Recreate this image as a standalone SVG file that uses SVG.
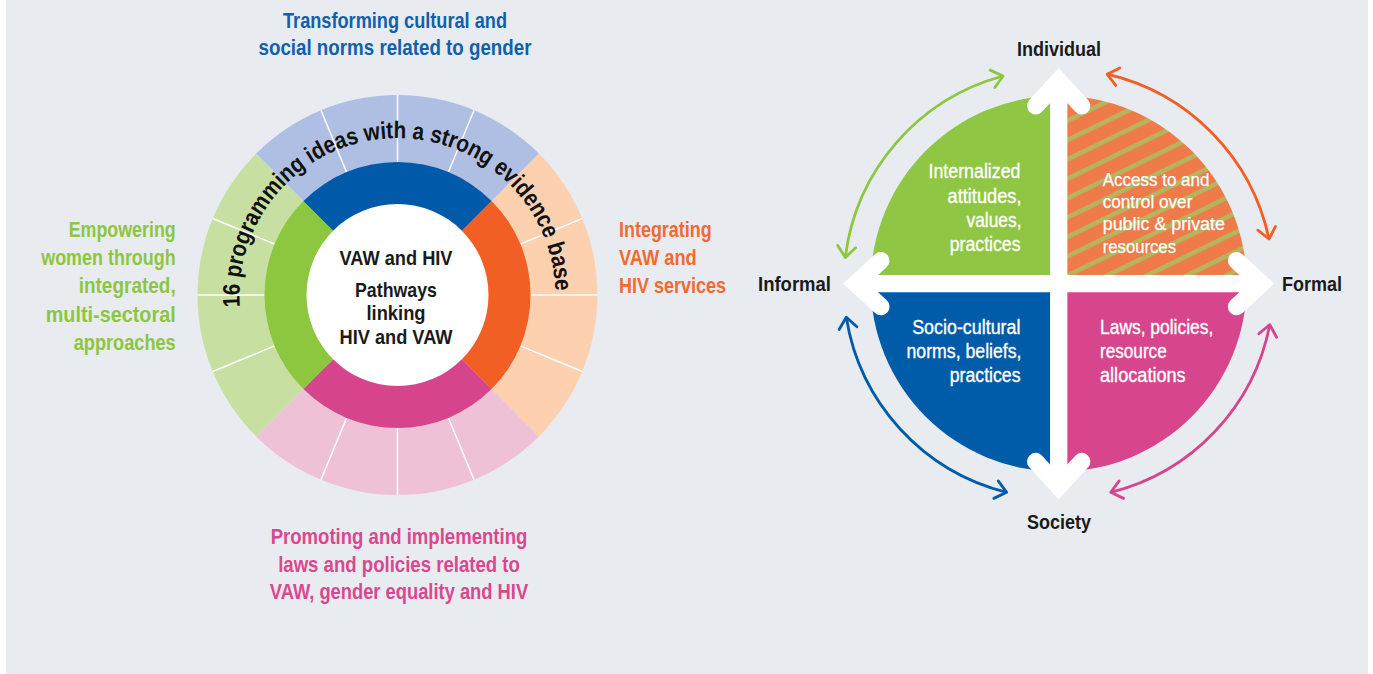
<svg xmlns="http://www.w3.org/2000/svg" width="1373" height="674" viewBox="0 0 1373 674">
<style>
.lbl{font-family:"Liberation Sans",Arial,sans-serif;font-weight:bold;font-size:21.5px}
.blk{font-family:"Liberation Sans",Arial,sans-serif;font-weight:bold;font-size:21px;fill:#1a1a1a}
.q{font-family:"Liberation Sans",Arial,sans-serif;font-size:20px;fill:#ffffff;stroke:#ffffff;stroke-width:0.35}
.qs{font-family:"Liberation Sans",Arial,sans-serif;font-size:18px;fill:#ffffff;stroke:#ffffff;stroke-width:0.25}
.div{stroke:#ffffff;stroke-width:1.5}
.arc{fill:none;stroke-width:2.8}
.axis{fill:none;stroke:#ffffff;stroke-width:17.3;stroke-linejoin:miter;stroke-miterlimit:10;stroke-linecap:round}
</style>
<defs>
<pattern id="hatch" patternUnits="userSpaceOnUse" width="20" height="17.4" patternTransform="rotate(-26)">
<rect width="20" height="17.4" fill="#ef7b4b"/>
<rect y="0" width="20" height="4.5" fill="#b5b55e"/>
</pattern>
<marker id="mg" markerUnits="userSpaceOnUse" markerWidth="30" markerHeight="30" viewBox="-20 -15 30 30" refX="0" refY="0" orient="auto-start-reverse" overflow="visible"><path d="M-11,-9 L0,0 L-11,9" fill="none" stroke="#8dc63f" stroke-width="2.8" stroke-linecap="round" stroke-linejoin="round"/></marker>
<marker id="mo" markerUnits="userSpaceOnUse" markerWidth="30" markerHeight="30" viewBox="-20 -15 30 30" refX="0" refY="0" orient="auto-start-reverse" overflow="visible"><path d="M-11,-9 L0,0 L-11,9" fill="none" stroke="#f15f24" stroke-width="2.8" stroke-linecap="round" stroke-linejoin="round"/></marker>
<marker id="mp" markerUnits="userSpaceOnUse" markerWidth="30" markerHeight="30" viewBox="-20 -15 30 30" refX="0" refY="0" orient="auto-start-reverse" overflow="visible"><path d="M-11,-9 L0,0 L-11,9" fill="none" stroke="#d6448c" stroke-width="2.8" stroke-linecap="round" stroke-linejoin="round"/></marker>
<marker id="mb" markerUnits="userSpaceOnUse" markerWidth="30" markerHeight="30" viewBox="-20 -15 30 30" refX="0" refY="0" orient="auto-start-reverse" overflow="visible"><path d="M-11,-9 L0,0 L-11,9" fill="none" stroke="#005aa9" stroke-width="2.8" stroke-linecap="round" stroke-linejoin="round"/></marker>
<path id="curve" d="M239.88,307.02 A158,158 0 1,1 555.43,291.31"/>
</defs>

<rect x="6" y="0" width="1362" height="674" fill="#e8ecf1"/>

<!-- LEFT WHEEL -->
<g id="wheel-outer">
<path d="M397.5,295 L538.92,153.58 A200,200 0 0 1 538.92,436.42 Z" fill="#fdd1b0"/>
<path d="M397.5,295 L538.92,436.42 A200,200 0 0 1 256.08,436.42 Z" fill="#efc1d7"/>
<path d="M397.5,295 L256.08,436.42 A200,200 0 0 1 256.08,153.58 Z" fill="#c7e0a2"/>
<path d="M397.5,295 L256.08,153.58 A200,200 0 0 1 538.92,153.58 Z" fill="#aebfe3"/>
<g class="div">
<line x1="530.5" y1="295" x2="597.5" y2="295"/>
<line x1="520.38" y1="345.9" x2="582.28" y2="371.54"/>
<line x1="520.38" y1="244.1" x2="582.28" y2="218.46"/>
<line x1="448.4" y1="417.88" x2="474.04" y2="479.78"/>
<line x1="397.5" y1="428" x2="397.5" y2="495"/>
<line x1="346.6" y1="417.88" x2="320.96" y2="479.78"/>
<line x1="274.62" y1="345.9" x2="212.72" y2="371.54"/>
<line x1="264.5" y1="295" x2="197.5" y2="295"/>
<line x1="274.62" y1="244.1" x2="212.72" y2="218.46"/>
<line x1="346.6" y1="172.12" x2="320.96" y2="110.22"/>
<line x1="397.5" y1="162" x2="397.5" y2="95"/>
<line x1="448.4" y1="172.12" x2="474.04" y2="110.22"/>
</g>
</g>
<g id="wheel-ring">
<path d="M397.5,295 L491.55,200.95 A133,133 0 0 1 491.55,389.05 Z" fill="#f15f24"/>
<path d="M397.5,295 L491.55,389.05 A133,133 0 0 1 303.45,389.05 Z" fill="#d6448c"/>
<path d="M397.5,295 L303.45,389.05 A133,133 0 0 1 303.45,200.95 Z" fill="#8dc63f"/>
<path d="M397.5,295 L303.45,200.95 A133,133 0 0 1 491.55,200.95 Z" fill="#005aa9"/>
</g>
<g id="wheel-center">
<circle cx="397.5" cy="295" r="91" fill="#ffffff"/>
<text class="blk" x="396" y="265" text-anchor="middle" textLength="113" lengthAdjust="spacingAndGlyphs">VAW and HIV</text>
<text class="blk" x="396" y="296.5" text-anchor="middle" textLength="82" lengthAdjust="spacingAndGlyphs">Pathways</text>
<text class="blk" x="396" y="320" text-anchor="middle" textLength="59" lengthAdjust="spacingAndGlyphs">linking</text>
<text class="blk" x="396" y="344.3" text-anchor="middle" textLength="113" lengthAdjust="spacingAndGlyphs">HIV and VAW</text>
</g>
<g id="wheel-curved-text">
<text font-family="Liberation Sans, Arial, sans-serif" font-weight="bold" font-size="24" fill="#111111"><textPath href="#curve" textLength="502" lengthAdjust="spacingAndGlyphs">16 programming ideas with a strong evidence base</textPath></text>
</g>

<g id="label-top" class="lbl" fill="#1160aa" text-anchor="middle">
<text x="395" y="28.3" textLength="224" lengthAdjust="spacingAndGlyphs">Transforming cultural and</text>
<text x="395" y="55.3" textLength="273" lengthAdjust="spacingAndGlyphs">social norms related to gender</text>
</g>
<g id="label-left" class="lbl" fill="#8dc63f" text-anchor="end">
<text x="175.7" y="236.7" textLength="107" lengthAdjust="spacingAndGlyphs">Empowering</text>
<text x="175.7" y="264.5" textLength="134.5" lengthAdjust="spacingAndGlyphs">women through</text>
<text x="175.7" y="292.5" textLength="97" lengthAdjust="spacingAndGlyphs">integrated,</text>
<text x="175.7" y="321.5" textLength="130" lengthAdjust="spacingAndGlyphs">multi-sectoral</text>
<text x="175.7" y="350" textLength="102" lengthAdjust="spacingAndGlyphs">approaches</text>
</g>
<g id="label-right" class="lbl" fill="#f26a2e">
<text x="619" y="236.7" textLength="92.7" lengthAdjust="spacingAndGlyphs">Integrating</text>
<text x="619" y="264.5" textLength="77.7" lengthAdjust="spacingAndGlyphs">VAW and</text>
<text x="619" y="292.5" textLength="107" lengthAdjust="spacingAndGlyphs">HIV services</text>
</g>
<g id="label-bottom" class="lbl" fill="#d9488f" text-anchor="middle">
<text x="399" y="544.3" textLength="256.7" lengthAdjust="spacingAndGlyphs">Promoting and implementing</text>
<text x="399" y="571.7" textLength="241.7" lengthAdjust="spacingAndGlyphs">laws and policies related to</text>
<text x="399" y="599" textLength="258.3" lengthAdjust="spacingAndGlyphs">VAW, gender equality and HIV</text>
</g>

<!-- RIGHT DIAGRAM -->
<g id="q-internalized">
<path d="M1058.7,283.7 L870.7,283.7 A188,188 0 0 1 1058.7,95.7 Z" fill="#8fc744"/>
<g class="q" text-anchor="end">
<text x="1020.5" y="178.3" textLength="92" lengthAdjust="spacingAndGlyphs">Internalized</text>
<text x="1021.5" y="202.7" textLength="74" lengthAdjust="spacingAndGlyphs">attitudes,</text>
<text x="1021.5" y="226.7" textLength="55" lengthAdjust="spacingAndGlyphs">values,</text>
<text x="1020.5" y="250.7" textLength="70.7" lengthAdjust="spacingAndGlyphs">practices</text>
</g>
</g>
<g id="q-access">
<path d="M1058.7,283.7 L1058.7,95.7 A188,188 0 0 1 1246.7,283.7 Z" fill="url(#hatch)"/>
<g class="qs">
<text x="1102.7" y="186" textLength="106.7" lengthAdjust="spacingAndGlyphs">Access to and</text>
<text x="1102.7" y="208.3" textLength="89.7" lengthAdjust="spacingAndGlyphs">control over</text>
<text x="1102.7" y="230" textLength="122.3" lengthAdjust="spacingAndGlyphs">public &amp; private</text>
<text x="1102.7" y="252.5" textLength="73.3" lengthAdjust="spacingAndGlyphs">resources</text>
</g>
</g>
<g id="q-laws">
<path d="M1058.7,283.7 L1246.7,283.7 A188,188 0 0 1 1058.7,471.7 Z" fill="#d7458d"/>
<g class="q">
<text x="1100" y="334.3" textLength="113.3" lengthAdjust="spacingAndGlyphs">Laws, policies,</text>
<text x="1100" y="358.3" textLength="66.7" lengthAdjust="spacingAndGlyphs">resource</text>
<text x="1100" y="381.7" textLength="85.7" lengthAdjust="spacingAndGlyphs">allocations</text>
</g>
</g>
<g id="q-socio">
<path d="M1058.7,283.7 L1058.7,471.7 A188,188 0 0 1 870.7,283.7 Z" fill="#005ba8"/>
<g class="q" text-anchor="end">
<text x="1020.5" y="334.3" textLength="108.3" lengthAdjust="spacingAndGlyphs">Socio-cultural</text>
<text x="1021.5" y="357.7" textLength="115" lengthAdjust="spacingAndGlyphs">norms, beliefs,</text>
<text x="1020.5" y="381.7" textLength="70.7" lengthAdjust="spacingAndGlyphs">practices</text>
</g>
</g>

<g id="axes">
<line class="axis" x1="1058.7" y1="80.9" x2="1058.7" y2="486.5" style="stroke-linecap:butt"/>
<line class="axis" x1="855.9" y1="283.7" x2="1261.5" y2="283.7" style="stroke-linecap:butt"/>
<path class="axis" d="M1035.7,105.9 L1058.7,80.9 L1081.7,105.9"/>
<path class="axis" d="M1035.7,461.5 L1058.7,486.5 L1081.7,461.5"/>
<path class="axis" d="M880.9,260.7 L855.9,283.7 L880.9,306.7"/>
<path class="axis" d="M1236.5,260.7 L1261.5,283.7 L1236.5,306.7"/>
</g>

<g id="connectors">
<path class="arc" stroke="#8dc63f" marker-start="url(#mg)" marker-end="url(#mg)" d="M845.3,257.5 A215,215 0 0 1 1003.1,76"/>
<path class="arc" stroke="#f15f24" marker-start="url(#mo)" marker-end="url(#mo)" d="M1107.1,74.2 A215,215 0 0 1 1269,239"/>
<path class="arc" stroke="#d6448c" marker-start="url(#mp)" marker-end="url(#mp)" d="M1269.8,324.7 A215,215 0 0 1 1110.7,492.3"/>
<path class="arc" stroke="#005aa9" marker-start="url(#mb)" marker-end="url(#mb)" d="M1006.7,492.3 A215,215 0 0 1 846.3,317.3"/>
</g>

<g id="axis-labels" class="blk">
<text x="1059" y="56" text-anchor="middle" textLength="84" lengthAdjust="spacingAndGlyphs">Individual</text>
<text x="831" y="291" text-anchor="end" textLength="73" lengthAdjust="spacingAndGlyphs">Informal</text>
<text x="1282" y="291" textLength="60" lengthAdjust="spacingAndGlyphs">Formal</text>
<text x="1059" y="529" text-anchor="middle" textLength="64" lengthAdjust="spacingAndGlyphs">Society</text>
</g>
</svg>
